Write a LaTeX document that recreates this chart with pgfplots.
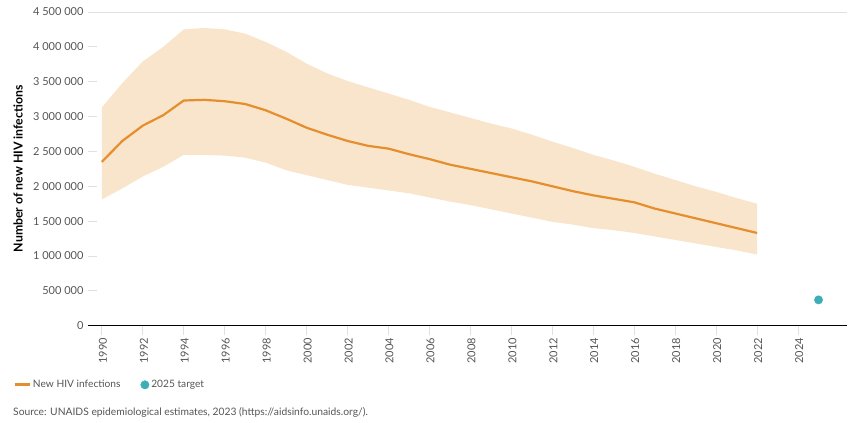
\documentclass[border=0pt]{standalone}
\usepackage{pgfplots}
\pgfplotsset{compat=1.18}
\usepackage{pgfplotstable}
\usepackage{fontspec}
\setmainfont{Lato}
\definecolor{band}{HTML}{F9E5CB}
\definecolor{lineor}{HTML}{E58E2E}
\definecolor{teal}{HTML}{3DAEB6}
\definecolor{ticktxt}{HTML}{555555}
\pgfplotstableread{
year main
1990 2350000
1991 2650000
1992 2870000
1993 3020000
1994 3230000
1995 3240000
1996 3220000
1997 3180000
1998 3090000
1999 2970000
2000 2840000
2001 2740000
2002 2650000
2003 2580000
2004 2540000
2005 2460000
2006 2390000
2007 2310000
2008 2250000
2009 2190000
2010 2130000
2011 2070000
2012 2000000
2013 1930000
2014 1870000
2015 1820000
2016 1770000
2017 1680000
2018 1610000
2019 1540000
2020 1470000
2021 1400000
2022 1330000
}\maintable
% uncertainty band: upper bound 1990-2022, then lower bound 2022-1990
\pgfplotstableread{
year bound
1990 3130000
1991 3480000
1992 3790000
1993 4000000
1994 4250000
1995 4270000
1996 4250000
1997 4190000
1998 4070000
1999 3930000
2000 3760000
2001 3620000
2002 3510000
2003 3420000
2004 3330000
2005 3240000
2006 3140000
2007 3060000
2008 2980000
2009 2900000
2010 2830000
2011 2740000
2012 2640000
2013 2550000
2014 2450000
2015 2370000
2016 2280000
2017 2180000
2018 2090000
2019 2000000
2020 1920000
2021 1830000
2022 1750000
2022 1020000
2021 1080000
2020 1130000
2019 1180000
2018 1230000
2017 1280000
2016 1330000
2015 1370000
2014 1400000
2013 1450000
2012 1490000
2011 1550000
2010 1610000
2009 1670000
2008 1730000
2007 1780000
2006 1840000
2005 1900000
2004 1940000
2003 1980000
2002 2020000
2001 2090000
2000 2160000
1999 2230000
1998 2340000
1997 2410000
1996 2440000
1995 2450000
1994 2450000
1993 2280000
1992 2140000
1991 1970000
1990 1810000
}\bandtable
\begin{document}
\begin{tikzpicture}
\begin{axis}[
  at={(88pt,97pt)}, anchor=south west,
  scale only axis, width=760pt, height=314pt,
  xmin=1989.32, xmax=2026.4, ymin=0, ymax=4500000,
  scaled y ticks=false,
  axis x line=bottom, axis y line=left,
  axis line style={-},
  x axis line style={black, line width=1.6pt},
  y axis line style={draw=none},
  xtick={1990,1992,...,2024},
  xticklabels={1990,1992,1994,1996,1998,2000,2002,2004,2006,2008,2010,2012,2014,2016,2018,2020,2022,2024},
  ytick={0,500000,1000000,1500000,2000000,2500000,3000000,3500000,4000000,4500000},
  yticklabels={0,500 000,1 000 000,1 500 000,2 000 000,2 500 000,3 000 000,3 500 000,4 000 000,4 500 000},
  extra y ticks={4500000}, extra y tick labels={},
  extra y tick style={grid=major, major grid style={black!12, line width=0.8pt}},
  xtick align=outside, ytick align=inside,
  major tick length=9pt,
  tick style={black!12, line width=0.8pt},
  ticklabel style={font=\fontsize{11}{13}\selectfont, text=ticktxt},
  xticklabel style={rotate=90, anchor=east, yshift=-1pt},
  yticklabel style={xshift=-1pt},
  ylabel={Number of new HIV infections},
  ylabel style={at={(axis description cs:0,0.5)}, anchor=center, yshift=70pt, font=\bfseries\fontsize{12.3}{14}\selectfont},
  legend style={at={(axis description cs:-0.0987,-0.1885)}, anchor=west, draw=none, fill=none, inner sep=0pt,
    legend columns=2, font=\fontsize{10.2}{12}\selectfont, text=ticktxt,
    /tikz/every even column/.append style={column sep=18pt}},
  clip=false,
]
\addplot[fill=band, draw=none, forget plot] table[x=year, y=bound] {\bandtable} -- cycle;
\addplot[lineor, line width=2.2pt, legend image code/.code={\draw[lineor, line width=2.8pt] (0pt,0pt) -- (15pt,0pt);}] table[x=year, y=main] {\maintable};
\addlegendentry{New HIV infections}
\addplot[only marks, mark=*, mark size=4.2pt, teal, mark options={draw=teal, fill=teal}, legend image code/.code={\fill[teal] (2pt,0pt) circle (4.2pt);}] coordinates {(2025,370000)};
\addlegendentry{2025 target}
\end{axis}
\node[anchor=west, inner sep=0pt, font=\fontsize{10.3}{12}\selectfont, text=ticktxt] at (13pt,10pt) {Source: UNAIDS epidemiological estimates, 2023 (https://aidsinfo.unaids.org/).};
\path (0,0) rectangle (848pt,423pt);
\end{tikzpicture}
\end{document}
